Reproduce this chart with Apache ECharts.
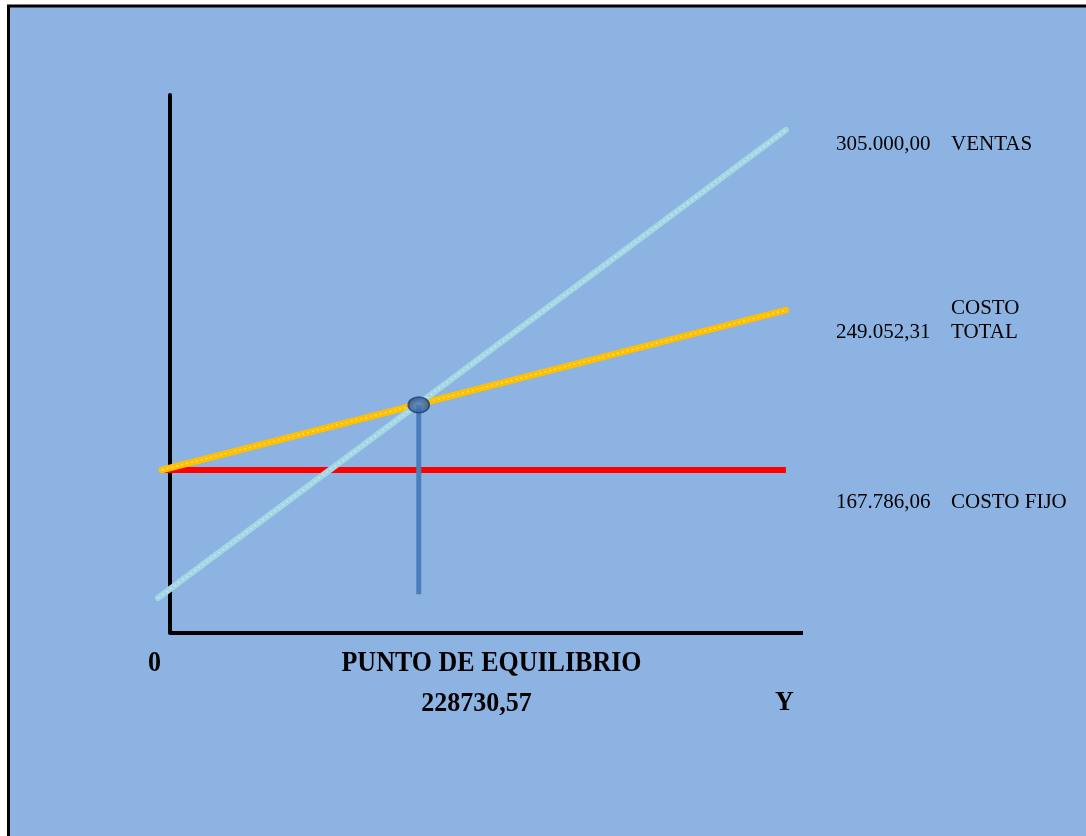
<!DOCTYPE html>
<html>
<head>
<meta charset="utf-8">
<title>Punto de equilibrio</title>
<script src="https://cdn.jsdelivr.net/npm/echarts@6/dist/echarts.min.js"></script>
<style>
  html, body { margin: 0; padding: 0; background: #ffffff; }
  #chart { width: 1086px; height: 836px; }
</style>
</head>
<body>
<div id="chart"></div>
<script>
// Break-even diagram (schematic units: -2..100 across, 0..100 up)
const ventasLine     = [[-1.9, 6.5], [97.3, 93.5]];
const costoTotalLine = [[-1.3, 30.3], [97.3, 60.0]];
const costoFijoLine  = [[-1.3, 30.3], [97.3, 30.3]];
const equilibrioPoint = [39.3, 42.4];
const equilibrioDrop  = [[39.3, 7.2], [39.3, 42.4]];
const baseAxisLine    = [[0, 0], [100, 0]];

// Annotations on the right
const valueLabels = ['305.000,00', '249.052,31', '167.786,06'];
const nameLabels  = ['VENTAS', 'COSTO\nTOTAL', 'COSTO FIJO'];

// Texts under the horizontal axis
const originLabel = '0';
const equilibrioTitle = 'PUNTO DE EQUILIBRIO';
const equilibrioValue = '228730,57';
const axisEndLabel = 'Y';

const SERIF = '"Liberation Serif", "Times New Roman", serif';
const chart = echarts.init(document.getElementById('chart'), null, { renderer: 'canvas' });

function plainText(x, y, text, opts) {
  return {
    type: 'text', x: x, y: y, z: 100,
    scaleY: opts.scaleY || 1,
    style: {
      x: 0, y: 0, text: text,
      fontFamily: SERIF,
      fontSize: opts.size,
      fontWeight: opts.weight || 'normal',
      lineHeight: opts.lineHeight || opts.size * 1.15,
      fill: '#000000',
      align: opts.align || 'left', textAlign: opts.align || 'left',
      verticalAlign: 'middle', textVerticalAlign: 'middle'
    }
  };
}

const graphics = [
  // panel with its black frame (right and bottom edges run off the canvas)
  {
    type: 'rect', z: -10, silent: true,
    shape: { x: 8.5, y: 6, width: 1200, height: 900 },
    style: { fill: '#8DB3E2', stroke: '#000000', lineWidth: 3 }
  },
  plainText(836, 144, valueLabels[0], { size: 21 }),
  plainText(951, 144, nameLabels[0], { size: 21 }),
  plainText(836, 332, valueLabels[1], { size: 21 }),
  plainText(951, 320, nameLabels[1], { size: 21, lineHeight: 24 }),
  plainText(836, 502, valueLabels[2], { size: 21 }),
  plainText(951, 502, nameLabels[2], { size: 21 }),
  plainText(154.5, 663, originLabel, { size: 26, weight: 'bold', align: 'center', scaleY: 1.12 }),
  plainText(491.5, 663, equilibrioTitle, { size: 26, weight: 'bold', align: 'center', scaleY: 1.12 }),
  plainText(476.5, 704, equilibrioValue, { size: 26, weight: 'bold', align: 'center', scaleY: 1.08 }),
  plainText(784.5, 703, axisEndLabel, { size: 26, weight: 'bold', align: 'center', scaleY: 1.08 })
];

function lineSeries(name, data, lineStyle, z) {
  return {
    name: name, type: 'line', data: data, z: z,
    silent: true, showSymbol: false, symbol: 'none', animation: false,
    lineStyle: lineStyle
  };
}

const option = {
  backgroundColor: '#ffffff',
  animation: false,
  graphic: graphics,
  grid: { left: 157.34, right: 283, top: 95, bottom: 203, containLabel: false },
  xAxis: {
    type: 'value', min: -2, max: 100,
    axisLine: { show: false },
    axisTick: { show: false }, axisLabel: { show: false }, splitLine: { show: false }
  },
  yAxis: {
    type: 'value', min: 0, max: 100,
    axisLine: { show: true, onZero: true, lineStyle: { color: '#000000', width: 4 } },
    axisTick: { show: false }, axisLabel: { show: false }, splitLine: { show: false }
  },
  series: [
    // horizontal axis drawn from the origin to the right end
    lineSeries('Eje', baseAxisLine, { color: '#000000', width: 4, cap: 'butt' }, 1),
    lineSeries('Costo fijo', costoFijoLine, { color: '#FF0000', width: 6, cap: 'butt' }, 2),
    lineSeries('Costo total', costoTotalLine, { color: '#FFC000', width: 6.5, cap: 'round' }, 3),
    lineSeries('Costo total brillo', costoTotalLine, { color: '#FFDA70', width: 1.5, type: [2, 3], cap: 'butt' }, 3),
    lineSeries('Ventas', ventasLine, { color: '#A3D7E3', width: 6, cap: 'round' }, 4),
    lineSeries('Ventas brillo', ventasLine, { color: '#C4E7EF', width: 1.5, type: [2, 3], cap: 'butt' }, 4),
    lineSeries('Equilibrio', equilibrioDrop, { color: '#4A7EBB', width: 5, cap: 'butt' }, 5),
    {
      name: 'Punto de equilibrio', type: 'scatter', z: 6, silent: true, animation: false,
      data: [equilibrioPoint],
      symbol: 'circle', symbolSize: [21, 16],
      itemStyle: {
        color: {
          type: 'radial', x: 0.5, y: 0.55, r: 0.5,
          colorStops: [{ offset: 0, color: '#4F7DBB' }, { offset: 0.6, color: '#3A659F' }, { offset: 1, color: '#274A7C' }]
        },
        borderColor: '#213F6B', borderWidth: 1.5
      }
    }
  ]
};

chart.setOption(option);
</script>
</body>
</html>
